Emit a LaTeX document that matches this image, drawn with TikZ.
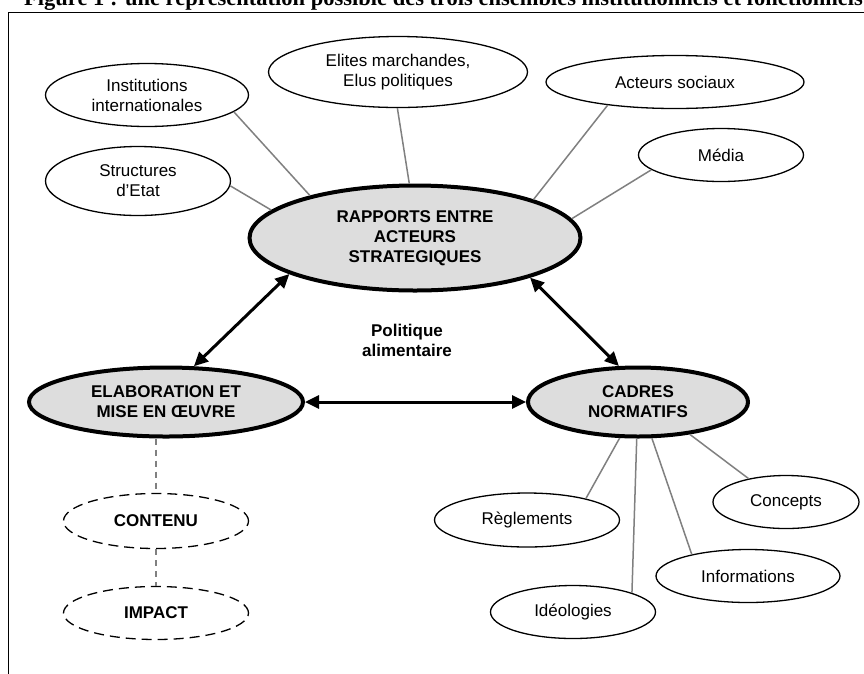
\documentclass[tikz,border=0pt]{standalone}
\usepackage{fontspec}
\setmainfont{Liberation Sans}
\newfontfamily\titlefont{Liberation Serif}
\usetikzlibrary{shapes.geometric,arrows.meta}
\definecolor{maingrey}{HTML}{DDDDDD}
\definecolor{linkgrey}{HTML}{808080}
\tikzset{
  sat/.style={ellipse, draw=black, line width=1.3pt, fill=white, inner sep=0pt, font=\fontsize{17}{20}\selectfont, align=center},
  mainnode/.style={ellipse, draw=black, line width=4pt, fill=maingrey, inner sep=0pt, font=\fontsize{17}{20}\selectfont\bfseries, align=center},
  dashnode/.style={ellipse, draw=black, line width=1.3pt, dash pattern=on 10pt off 6pt, fill=white, inner sep=0pt, font=\fontsize{17}{20}\selectfont\bfseries},
  link/.style={draw=linkgrey, line width=1.5pt},
  dlink/.style={draw=linkgrey, line width=1.5pt, dash pattern=on 6pt off 5pt},
  biarrow/.style={line width=3pt, {Triangle[length=14pt,width=13pt]}-{Triangle[length=14pt,width=13pt]}},
  frame/.style={line width=1.6pt},
}
\begin{document}
\begin{tikzpicture}[x=1pt,y=-1pt]
\useasboundingbox (0,0) rectangle (864,673);
\clip (0,0) rectangle (864,673);
\fill[white] (0,0) rectangle (864,673);
\node[anchor=base west, inner sep=0pt, font=\titlefont\bfseries\fontsize{22.5}{26}\selectfont] (title) at (24,5.5) {Figure 1 : une représentation possible des trois ensembles institutionnels et fonctionnels};
\draw[frame] (8.5,12.5) rectangle (900,720);

% main nodes
\node[mainnode, minimum width=331pt, minimum height=105pt] (rap) at (415,238) {RAPPORTS ENTRE\\ACTEURS\\STRATEGIQUES};
\node[mainnode, minimum width=274pt, minimum height=69pt] (elab) at (166,402) {ELABORATION ET\\MISE EN ŒUVRE};
\node[mainnode, minimum width=220pt, minimum height=69pt] (cad) at (638,402) {CADRES\\NORMATIFS};

% satellites
\node[sat, minimum width=203pt, minimum height=63pt] (inst) at (147,95) {Institutions\\internationales};
\node[sat, minimum width=185pt, minimum height=69pt] (struct) at (138,181) {Structures\\d’Etat};
\node[sat, minimum width=259pt, minimum height=71pt] (elites) at (398,72) {Elites marchandes,\\Elus politiques};
\node[sat, minimum width=258pt, minimum height=53pt] (acteurs) at (675,82) {Acteurs sociaux};
\node[sat, minimum width=165pt, minimum height=53pt] (media) at (721,155) {Média};
\node[sat, minimum width=185pt, minimum height=54pt] (regl) at (527,520) {Règlements};
\node[sat, minimum width=165pt, minimum height=53pt] (ideo) at (573,612) {Idéologies};
\node[sat, minimum width=184pt, minimum height=53pt] (info) at (748,576) {Informations};
\node[sat, minimum width=146pt, minimum height=53pt] (conc) at (786,502) {Concepts};

\node[dashnode, minimum width=185pt, minimum height=55pt] (contenu) at (156,521) {CONTENU};
\node[dashnode, minimum width=185pt, minimum height=53pt] (impact) at (156,613) {IMPACT};

\node[inner sep=0pt, align=center, font=\fontsize{17}{20}\selectfont\bfseries] (pol) at (407,340) {Politique\\alimentaire};

% grey links
\draw[link] (inst.-11) -- (rap.158);
\draw[link] (struct.-3) -- (rap.169);
\draw[link] (elites.-91) -- (rap.96);
\draw[link] (acteurs.199) -- (rap.18);
\draw[link] (media.192) -- (rap.7);
\draw[link] (regl.20) -- (cad.243);
\draw[link] (ideo.18) -- (cad.268);
\draw[link] (info.159) -- (cad.291);
\draw[link] (conc.148) -- (cad.328);

% dashed links
\draw[dlink] (contenu.north |- elab.south) -- (contenu.north);
\draw[dlink] (contenu.south) -- (impact.north);

% arrows
\draw[biarrow] (rap.196) -- (elab.52);
\draw[biarrow] (rap.341) -- (cad.118);
\draw[biarrow] (elab.east) -- (cad.west);
\end{tikzpicture}
\end{document}
